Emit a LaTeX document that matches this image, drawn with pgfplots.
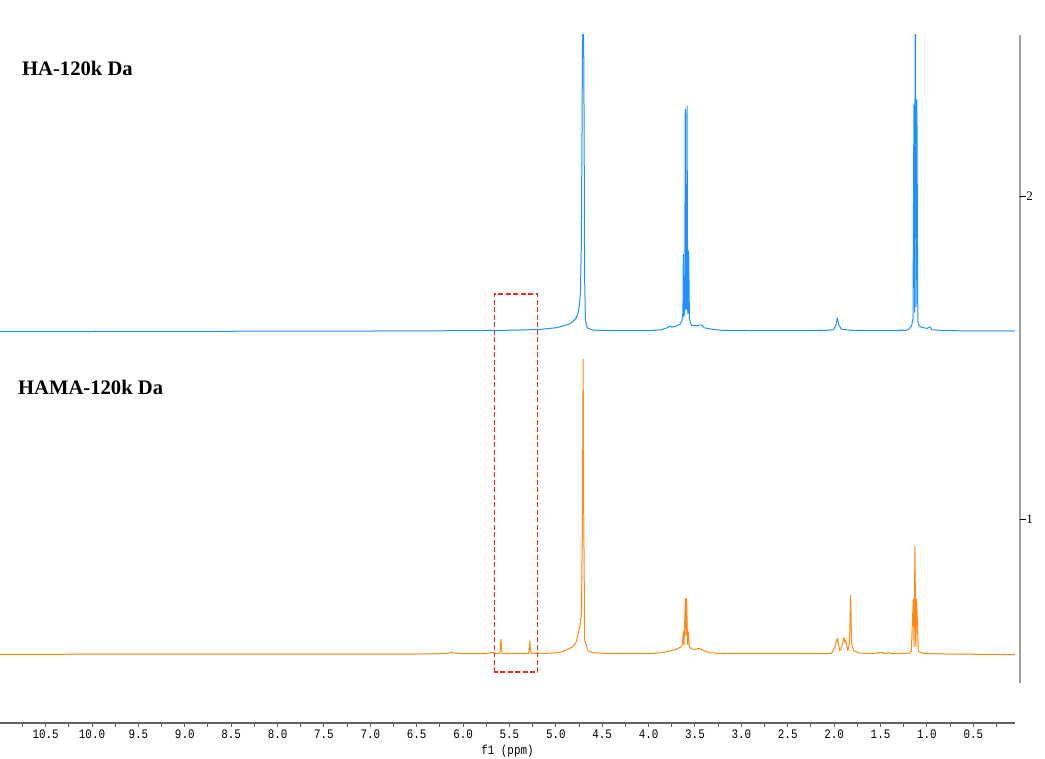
\documentclass[border=0pt]{standalone}
\usepackage{pgfplots}
\pgfplotsset{compat=1.18}
\usepackage{fontspec}
\setmainfont{Liberation Serif}
\newfontfamily\tickfont{Liberation Mono}[FakeStretch=0.84]
\definecolor{specblue}{RGB}{30,144,255}
\definecolor{specorange}{RGB}{255,137,20}
\definecolor{boxred}{RGB}{235,40,40}
\definecolor{axgray}{RGB}{160,160,160}
\begin{document}
\begin{tikzpicture}
\begin{axis}[
  at={(0,0)}, anchor=south west,
  scale only axis, width=1015bp, height=688bp,
  xmin=0.0506, xmax=10.992, x dir=reverse,
  ymin=0.3684, ymax=2.4985,
  axis x line*=bottom, axis y line=none,
  x axis line style={draw=black!62, line width=1.2bp},
  xtick={0.5,1,1.5,2,2.5,3,3.5,4,4.5,5,5.5,6,6.5,7,7.5,8,8.5,9,9.5,10,10.5},
  minor xtick={0.25,0.75,1.25,1.75,2.25,2.75,3.25,3.75,4.25,4.75,5.25,5.75,6.25,6.75,7.25,7.75,8.25,8.75,9.25,9.75,10.25,10.75},
  tick align=outside,
  major tick length=3.5bp, minor tick length=3.5bp,
  x tick style={draw=black!62, line width=1bp},
  xticklabel style={font=\tickfont\fontsize{13}{13}\selectfont, /pgf/number format/.cd, fixed, fixed zerofill, precision=1, assume math mode=true},
  clip mode=individual,
]
% HA-120k Da
\addplot[specblue, line width=1bp, line join=round] table {
10.99 1.580
9.0 1.581
7.0 1.582
6.0 1.583
5.6 1.584
5.39 1.585
5.17 1.587
5.0 1.592
4.955 1.595
4.86 1.603
4.815 1.611
4.78 1.624
4.76 1.638
4.745 1.665
4.735 1.700
4.725 1.850
4.718 2.200
4.706 2.800
4.695 2.200
4.690 1.750
4.681 1.616
4.665 1.595
4.653 1.590
4.60 1.585
4.40 1.583
4.00 1.583
3.86 1.586
3.80 1.592
3.773 1.597
3.75 1.594
3.70 1.598
3.66 1.603
3.64 1.615
3.630 1.640
3.626 1.820
3.620 1.626
3.611 1.640
3.605 2.269
3.598 1.650
3.592 1.650
3.586 2.279
3.578 1.635
3.572 1.640
3.568 1.830
3.560 1.620
3.540 1.600
3.48 1.598
3.44 1.601
3.425 1.600
3.40 1.592
3.306 1.587
3.20 1.584
2.50 1.583
2.10 1.584
2.006 1.586
1.981 1.600
1.966 1.623
1.949 1.600
1.92 1.587
1.80 1.584
1.50 1.583
1.30 1.583
1.287 1.586
1.28 1.583
1.262 1.585
1.25 1.583
1.20 1.586
1.165 1.598
1.150 1.620
1.140 2.282
1.133 1.640
1.125 2.800
1.116 1.657
1.108 2.297
1.098 1.612
1.085 1.600
1.072 1.595
1.00 1.590
0.975 1.594
0.963 1.594
0.95 1.586
0.80 1.583
0.05 1.582
};
% HAMA-120k Da
\addplot[specorange, line width=1bp, line join=round] table {
10.99 0.581
8.0 0.582
6.5 0.582
6.20 0.583
6.15 0.585
6.128 0.588
6.10 0.585
6.00 0.583
5.75 0.583
5.694 0.587
5.66 0.584
5.61 0.584
5.600 0.590
5.591 0.628
5.582 0.588
5.57 0.583
5.30 0.583
5.290 0.588
5.281 0.622
5.272 0.588
5.26 0.584
5.10 0.584
5.03 0.585
4.95 0.588
4.886 0.594
4.815 0.605
4.78 0.620
4.742 0.666
4.724 0.708
4.713 1.000
4.706 1.495
4.699 1.000
4.689 0.625
4.653 0.592
4.60 0.586
4.40 0.583
4.00 0.583
3.90 0.585
3.808 0.589
3.70 0.597
3.646 0.605
3.635 0.612
3.626 0.651
3.618 0.610
3.604 0.754
3.597 0.640
3.590 0.754
3.580 0.610
3.571 0.651
3.562 0.605
3.540 0.598
3.50 0.596
3.457 0.600
3.43 0.595
3.34 0.586
3.20 0.583
2.10 0.583
2.03 0.584
1.995 0.600
1.966 0.631
1.94 0.592
1.92 0.600
1.895 0.634
1.885 0.618
1.876 0.625
1.852 0.592
1.834 0.620
1.822 0.764
1.812 0.615
1.79 0.592
1.725 0.585
1.60 0.583
1.475 0.587
1.465 0.583
1.40 0.586
1.39 0.583
1.20 0.584
1.168 0.590
1.147 0.752
1.138 0.605
1.129 0.917
1.120 0.605
1.111 0.752
1.093 0.590
1.043 0.584
0.80 0.582
0.05 0.580
};
% right axis
\draw[axgray, line width=2bp] (axis cs:0,0.492) -- (axis cs:0,2.498);
\draw[black, line width=0.8bp] (axis cs:0,2) -- ++(6bp,0bp);
\draw[black, line width=0.8bp] (axis cs:0,1) -- ++(6bp,0bp);
\node[anchor=west, inner sep=0pt, xshift=6.5bp, font=\fontsize{13}{13}\selectfont] at (axis cs:0,2) {2};
\node[anchor=west, inner sep=0pt, xshift=6.5bp, font=\fontsize{13}{13}\selectfont] at (axis cs:0,1) {1};
% highlight box
\draw[boxred, line width=1.3bp, dash pattern=on 5bp off 2.5bp] (axis cs:5.665,0.526) rectangle (axis cs:5.196,1.697);
% sample labels
\node[anchor=west, inner sep=0pt, font=\bfseries\fontsize{20.7}{24}\selectfont] at (axis cs:10.755,2.396) {HA-120k Da};
\node[anchor=west, inner sep=0pt, font=\bfseries\fontsize{20.7}{24}\selectfont] at (axis cs:10.798,1.406) {HAMA-120k Da};
% x label
\node[font=\tickfont\fontsize{13}{13}\selectfont, yshift=-28bp] at (rel axis cs:0.5,0) {f1 (ppm)};
\end{axis}
\pgfresetboundingbox
\path (0bp,-36bp) rectangle (1045bp,723bp);
\end{tikzpicture}
\end{document}
